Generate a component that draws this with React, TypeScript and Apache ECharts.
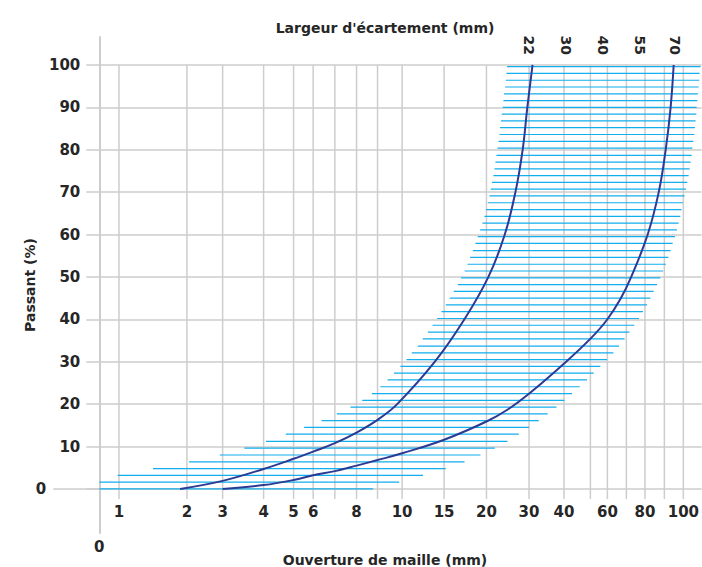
import React, { useEffect, useRef } from "react";
import * as echarts from "echarts";

// Non-uniform sieve scale of the bottom axis: mm value -> position (px from origin)
const SCALE_MM = [0, 1, 2, 3, 4, 5, 6, 7, 8, 9, 10, 15, 20, 30, 40, 50, 60, 70, 80, 90, 100];
const SCALE_POS = [0, 19.7, 87.7, 123.4, 164.4, 194.4, 214, 235.7, 257.4, 278.4, 303, 345, 387.4, 430, 465, 491.4, 508.4, 527.4, 546, 565.4, 584.4];
const AXIS_END = 602.7;

const GRID_MM = [1, 2, 3, 4, 5, 6, 7, 8, 9, 10, 15, 20, 30, 40, 50, 60, 70, 80, 90, 100];
const X_LABELS = [1, 2, 3, 4, 5, 6, 8, 10, 15, 20, 30, 40, 60, 80, 100];
const Y_TICKS = [0, 10, 20, 30, 40, 50, 60, 70, 80, 90, 100];
const TOP_LABELS = ["22", "30", "40", "55", "70"];
const TOP_AT_MM = [29.9, 40.9, 57.2, 77.15, 95.4];

// Hatched passing band: each row = level (%), left end (mm), right end (mm)
const HATCH_Y = [
  0, 1.6, 3.2, 4.8, 6.4, 8.0, 9.6, 11.2, 12.9, 14.5, 16.1, 17.7, 19.3, 20.9, 22.5, 24.1,
  25.7, 27.3, 28.9, 30.5, 32.1, 33.7, 35.4, 37.0, 38.6, 40.2, 41.8, 43.4, 45.0, 46.6, 48.2,
  49.8, 51.4, 53.0, 54.6, 56.2, 57.9, 59.5, 61.1, 62.7, 64.3, 65.9, 67.5, 69.1, 70.7, 72.3,
  73.9, 75.5, 77.1, 78.7, 80.4, 82.0, 83.6, 85.2, 86.8, 88.4, 90.0, 91.6, 93.2, 94.8, 96.4,
  98.0, 99.6,
];
const HATCH_LEFT = [
  0, 0, 0.93, 1.5, 2.06, 2.92, 3.53, 4.08, 4.74, 5.54, 6.39, 7.09, 7.72, 8.27, 8.73, 9.11,
  9.41, 9.67, 9.93, 10.52, 11.15, 11.87, 12.46, 13.06, 13.62, 14.17, 14.69, 15.2, 15.67, 16.14,
  16.62, 17.0, 17.42, 17.76, 18.07, 18.39, 18.7, 18.97, 19.25, 19.53, 19.76, 19.95, 20.31, 20.7,
  21.01, 21.31, 21.64, 21.88, 22.11, 22.35, 22.58, 22.82, 23.05, 23.19, 23.43, 23.59, 23.83,
  23.99, 24.13, 24.37, 24.53, 24.69, 24.84,
];
const HATCH_RIGHT = [
  8.79, 9.88, 12.5, 15.2, 17.41, 19.29, 21.95, 24.93, 27.58, 30.0, 32.77, 35.34, 37.83, 40.15,
  43.03, 45.95, 48.71, 51.94, 55.88, 59.8, 63.16, 66.11, 69.1, 71.61, 74.3, 76.77, 78.92, 81.03,
  82.78, 84.48, 86.19, 87.94, 89.38, 90.84, 92.11, 93.32, 94.37, 95.58, 96.63, 97.53, 98.42,
  99.11, 99.79, 100.68, 101.37, 102.11, 102.79, 103.32, 103.84, 104.37, 104.74, 105.26, 105.79,
  106.11, 106.47, 106.84, 107.0, 107.37, 107.68, 108.05, 108.42, 108.58, 109.1,
];

// Grading curves (mm, % passing)
const CURVE_A_MM = [1.9, 3, 4, 5, 6, 7, 8, 9, 9.8, 13.9, 17.4, 20.45, 24.3, 26.8, 28.5, 29.6, 31.0];
const CURVE_A_PCT = [0, 1.9, 4.7, 7.1, 8.8, 10.8, 13.3, 16.3, 20, 30, 40, 50, 60, 70, 80, 90, 100];
const CURVE_B_MM = [3.0, 4, 5, 6, 7, 8, 9, 10, 15, 20, 25.1, 30.5, 40.8, 50.2, 59.8, 67.0, 72.6, 81.4, 87.1, 90.7, 93.3, 94.9];
const CURVE_B_PCT = [0, 0.9, 2.1, 3.2, 4.2, 5.5, 6.8, 8.4, 11.6, 15.9, 18.8, 22.8, 30, 35.5, 39.9, 44.9, 50, 60, 70, 80, 90, 100];

function toP(mm: number): number {
  const n = SCALE_MM.length;
  for (let i = 1; i < n; i++) {
    if (mm <= SCALE_MM[i]) {
      const t = (mm - SCALE_MM[i - 1]) / (SCALE_MM[i] - SCALE_MM[i - 1]);
      return SCALE_POS[i - 1] + t * (SCALE_POS[i] - SCALE_POS[i - 1]);
    }
  }
  const t = (mm - SCALE_MM[n - 2]) / (SCALE_MM[n - 1] - SCALE_MM[n - 2]);
  return SCALE_POS[n - 2] + t * (SCALE_POS[n - 1] - SCALE_POS[n - 2]);
}

const FONT = "DejaVu Sans";
const TEXT = "#262626";
const GRAY = "#cdcdcd";
const HATCH = "#12aeed";
const CURVE = "#2b3a93";

export default function App() {
  const ref = useRef<HTMLDivElement>(null);
  useEffect(() => {
    document.body.style.margin = "0";
    if (!ref.current) return;
    const chart = echarts.init(ref.current, undefined, { renderer: "svg" });
    const labelStyle = { fontFamily: FONT, fontSize: 15, fontWeight: "bold" as const, color: TEXT };
    const titleStyle = { fontFamily: FONT, fontSize: 14, fontWeight: "bold" as const, color: TEXT };
    const xLabel = (v: number) => {
      for (const l of X_LABELS) if (Math.abs(toP(l) - v) < 0.5) return String(l);
      return "";
    };
    const topLabel = (v: number) => {
      for (let i = 0; i < TOP_AT_MM.length; i++) if (Math.abs(toP(TOP_AT_MM[i]) - v) < 0.5) return TOP_LABELS[i];
      return "";
    };
    const option: any = {
      animation: false,
      title: [
        { text: "Largeur d'écartement (mm)", left: 380, top: 16, textAlign: "center", textStyle: titleStyle },
        { text: "Ouverture de maille (mm)", left: 380, top: 548, textAlign: "center", textStyle: titleStyle },
      ],
      grid: { left: 99.3, right: 0, top: 37, bottom: 34 },
      xAxis: [
        {
          type: "value", min: 0, max: AXIS_END, position: "bottom", offset: -44,
          axisLine: { show: false, onZero: false },
          axisTick: { show: false }, splitLine: { show: false },
          axisLabel: { customValues: X_LABELS.map(toP), formatter: xLabel, margin: 15, ...labelStyle },
        },
        {
          type: "value", min: 0, max: AXIS_END, position: "top", offset: -22,
          axisLine: { show: false, onZero: false }, axisTick: { show: false }, splitLine: { show: false },
          axisLabel: { customValues: TOP_AT_MM.map(toP), formatter: topLabel, rotate: 90, margin: 4, ...labelStyle, fontSize: 14 },
        },
        {
          type: "value", min: 0, max: AXIS_END, position: "bottom",
          axisLine: { show: false, onZero: false }, axisTick: { show: false }, splitLine: { show: false },
          axisLabel: { customValues: [0], formatter: () => "0", margin: 6, ...labelStyle },
        },
      ],
      yAxis: [
        {
          type: "value", min: -10.4, max: 106.6, position: "left",
          name: "Passant (%)", nameLocation: "middle", nameRotate: 90, nameGap: 62, nameTextStyle: titleStyle,
          axisLine: { show: true, onZero: false, lineStyle: { color: GRAY, width: 2 } },
          axisTick: { show: true, customValues: Y_TICKS, length: 13, lineStyle: { color: GRAY, width: 1.5 } },
          axisLabel: { customValues: Y_TICKS.filter((v) => v !== 0), margin: 19, ...labelStyle },
          splitLine: { show: true, lineStyle: { color: GRAY, width: 1.5 } },
        },
        {
          type: "value", min: -10.4, max: 106.6, position: "left",
          axisLine: { show: false, onZero: false },
          axisTick: { show: true, customValues: [0], length: 46, lineStyle: { color: GRAY, width: 1.5 } },
          axisLabel: { customValues: [0], margin: 53, ...labelStyle },
          splitLine: { show: false },
        },
      ],
      series: [
        {
          type: "custom", z: 1, silent: true,
          data: GRID_MM.map((v) => [toP(v), 100]),
          encode: { x: 0, y: 1 },
          renderItem: (_p: any, api: any) => {
            const top = api.coord([api.value(0), api.value(1)]);
            const bot = api.coord([api.value(0), -2.4]);
            return { type: "line", shape: { x1: top[0], y1: top[1], x2: bot[0], y2: bot[1] }, style: { stroke: GRAY, lineWidth: 1.5 } };
          },
        },
        {
          type: "custom", z: 2, silent: true,
          data: HATCH_Y.map((y, i) => [toP(HATCH_LEFT[i]), toP(HATCH_RIGHT[i]), y]),
          encode: { x: [0, 1], y: 2 },
          renderItem: (_p: any, api: any) => {
            const a = api.coord([api.value(0), api.value(2)]);
            const b = api.coord([api.value(1), api.value(2)]);
            return { type: "line", shape: { x1: a[0], y1: a[1], x2: b[0], y2: b[1] }, style: { stroke: HATCH, lineWidth: 1.2 } };
          },
        },
        {
          type: "line", z: 3, symbol: "none", smooth: 0.4, silent: true,
          data: CURVE_A_MM.map((m, i) => [toP(m), CURVE_A_PCT[i]]),
          lineStyle: { color: CURVE, width: 2 },
        },
        {
          type: "line", z: 3, symbol: "none", smooth: 0.4, silent: true,
          data: CURVE_B_MM.map((m, i) => [toP(m), CURVE_B_PCT[i]]),
          lineStyle: { color: CURVE, width: 2 },
        },
      ],
    };
    chart.setOption(option);
    return () => chart.dispose();
  }, []);
  return <div ref={ref} style={{ width: 702, height: 567 }} />;
}
